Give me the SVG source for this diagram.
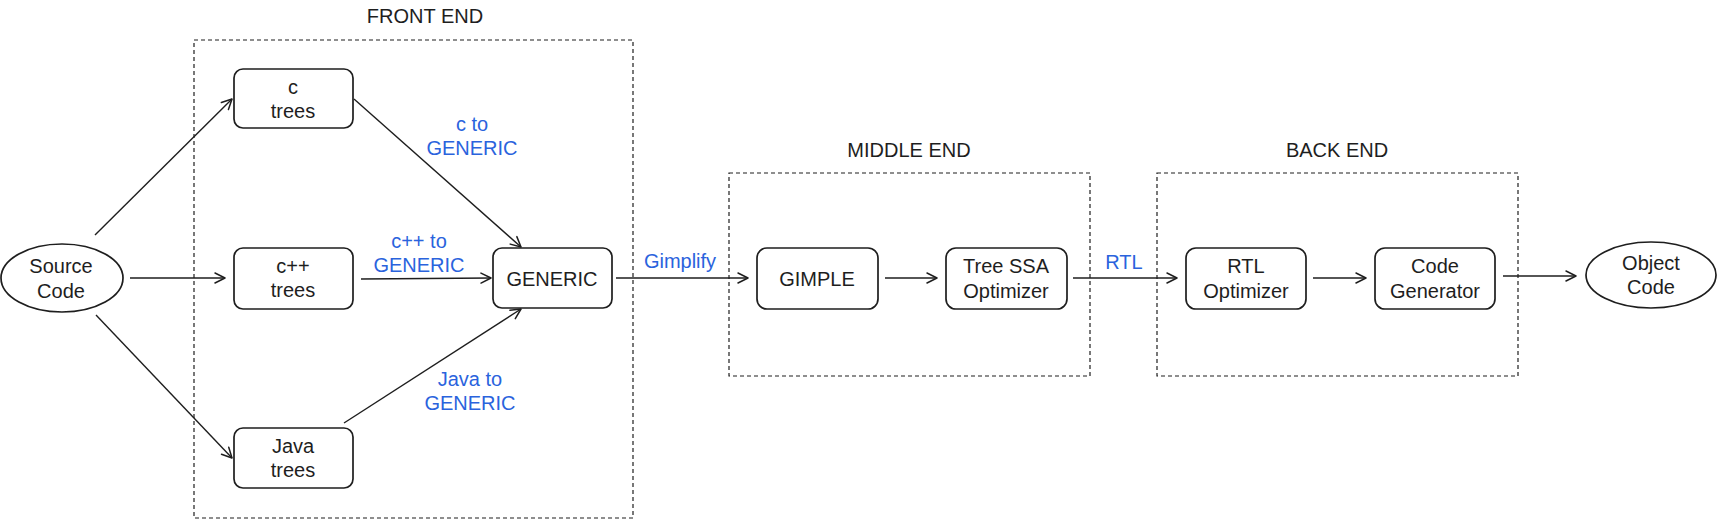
<svg xmlns="http://www.w3.org/2000/svg" width="1719" height="520" viewBox="0 0 1719 520">
<style>
  .t{font-family:"Liberation Sans",Arial,sans-serif;font-size:20px;fill:#1e1e1e;text-anchor:middle}
  .b{fill:#2a63dd}
  .node{fill:#fff;stroke:#1e1e1e;stroke-width:1.7}
  .grp{fill:none;stroke:#1e1e1e;stroke-width:1.2;stroke-dasharray:4 3}
  .e{fill:none;stroke:#1e1e1e;stroke-width:1.4;marker-end:url(#ah)}
</style>
<defs>
  <marker id="ah" viewBox="0 0 14 14" refX="13" refY="7" markerWidth="14" markerHeight="14" markerUnits="userSpaceOnUse" orient="auto">
    <path d="M3,2 L13,7 L3,12" fill="none" stroke="#1e1e1e" stroke-width="1.5" stroke-linecap="round" stroke-linejoin="round"/>
  </marker>
</defs>
<rect width="1719" height="520" fill="#fff"/>

<g id="front-end">
  <rect class="grp" x="194" y="40" width="439" height="478"/>
  <text class="t" x="425" y="23">FRONT END</text>
</g>
<g id="middle-end">
  <rect class="grp" x="729" y="173" width="361" height="203"/>
  <text class="t" x="909" y="157">MIDDLE END</text>
</g>
<g id="back-end">
  <rect class="grp" x="1157" y="173" width="361" height="203"/>
  <text class="t" x="1337" y="157">BACK END</text>
</g>

<g id="connectors">
  <line class="e" x1="95" y1="235" x2="232" y2="99"/>
  <line class="e" x1="130" y1="278" x2="225" y2="278"/>
  <line class="e" x1="96" y1="315" x2="232" y2="458"/>
  <line class="e" x1="354" y1="99" x2="521" y2="247"/>
  <line class="e" x1="361" y1="279" x2="491" y2="278"/>
  <line class="e" x1="344" y1="423" x2="521" y2="309"/>
  <line class="e" x1="616" y1="278" x2="748" y2="278"/>
  <line class="e" x1="885" y1="278" x2="937" y2="278"/>
  <line class="e" x1="1073" y1="278" x2="1177" y2="278"/>
  <line class="e" x1="1313" y1="278" x2="1366" y2="278"/>
  <line class="e" x1="1503" y1="276" x2="1576" y2="276"/>
  <text class="t b" x="472" y="131">c to</text>
  <text class="t b" x="472" y="155">GENERIC</text>
  <text class="t b" x="419" y="248">c++ to</text>
  <text class="t b" x="419" y="272">GENERIC</text>
  <text class="t b" x="470" y="386">Java to</text>
  <text class="t b" x="470" y="410">GENERIC</text>
  <text class="t b" x="680" y="268">Gimplify</text>
  <text class="t b" x="1124" y="269">RTL</text>
</g>

<g id="source-code">
  <ellipse class="node" cx="62" cy="278" rx="61" ry="34"/>
  <text class="t" x="61" y="273">Source</text>
  <text class="t" x="61" y="298">Code</text>
</g>
<g id="c-trees">
  <rect class="node" x="234" y="69" width="119" height="59" rx="9"/>
  <text class="t" x="293" y="94">c</text>
  <text class="t" x="293" y="118">trees</text>
</g>
<g id="cpp-trees">
  <rect class="node" x="234" y="248" width="119" height="61" rx="9"/>
  <text class="t" x="293" y="273">c++</text>
  <text class="t" x="293" y="297">trees</text>
</g>
<g id="java-trees">
  <rect class="node" x="234" y="428" width="119" height="60" rx="9"/>
  <text class="t" x="293" y="453">Java</text>
  <text class="t" x="293" y="477">trees</text>
</g>
<g id="generic">
  <rect class="node" x="493" y="248" width="119" height="60" rx="9"/>
  <text class="t" x="552" y="286">GENERIC</text>
</g>
<g id="gimple">
  <rect class="node" x="757" y="248" width="121" height="61" rx="10"/>
  <text class="t" x="817" y="286">GIMPLE</text>
</g>
<g id="tree-ssa">
  <rect class="node" x="946" y="248" width="121" height="61" rx="10"/>
  <text class="t" x="1006" y="273">Tree SSA</text>
  <text class="t" x="1006" y="298">Optimizer</text>
</g>
<g id="rtl-optimizer">
  <rect class="node" x="1186" y="248" width="120" height="61" rx="10"/>
  <text class="t" x="1246" y="273">RTL</text>
  <text class="t" x="1246" y="298">Optimizer</text>
</g>
<g id="code-generator">
  <rect class="node" x="1375" y="248" width="120" height="61" rx="10"/>
  <text class="t" x="1435" y="273">Code</text>
  <text class="t" x="1435" y="298">Generator</text>
</g>
<g id="object-code">
  <ellipse class="node" cx="1651" cy="275" rx="65" ry="33"/>
  <text class="t" x="1651" y="270">Object</text>
  <text class="t" x="1651" y="294">Code</text>
</g>
</svg>
